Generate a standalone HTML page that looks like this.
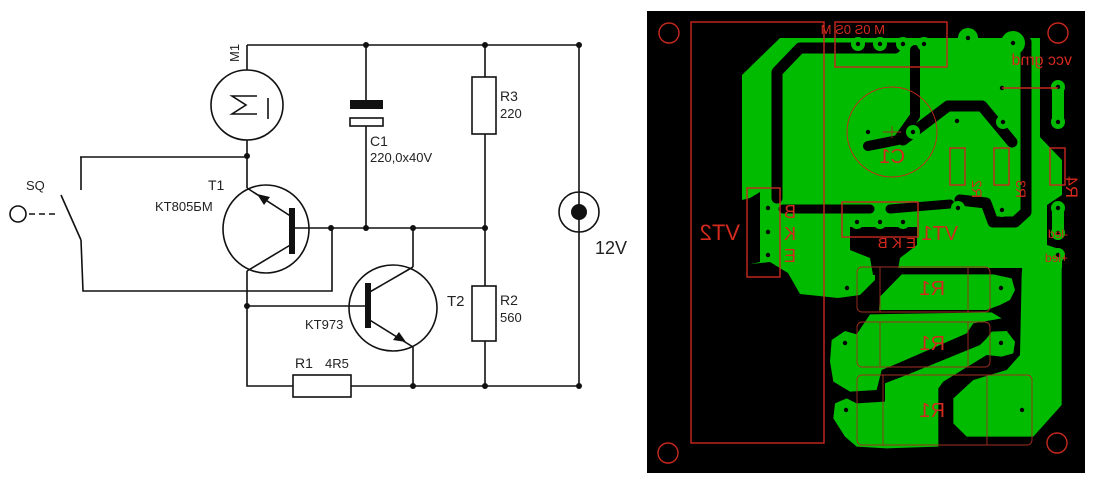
<!DOCTYPE html>
<html><head><meta charset="utf-8"><style>
html,body{margin:0;padding:0;background:#fff;width:1100px;height:487px;overflow:hidden}
svg{display:block}
.s{font-family:"Liberation Sans",sans-serif;fill:#222}
.r{font-family:"Liberation Sans",sans-serif;fill:#d42a1e}
</style></head><body>
<svg width="1100" height="487" viewBox="0 0 1100 487" xmlns="http://www.w3.org/2000/svg">
<!-- SCHEMATIC -->
<g stroke="#111" stroke-width="1.6" fill="none">
<path d="M247,45H579M247,45V70M247,140V188M292,228H485M579,45V386M247,271V386H293M351,386H579"/>
<path d="M485,45V77M485,134V286M485,341V386"/>
<path d="M366,45V101M366,126V228"/>
<path d="M80,157H247M81,157V190M61,195L81,240M81,240L83,291H332V228"/>
<path d="M55,214H26" stroke-dasharray="6,4"/>
<path d="M247,306H365M413,228V267M413,347V386"/>
<ellipse cx="247" cy="105" rx="36" ry="35"/>
<path d="M257,96H232L246,105L232,114H257M268,98V119"/>
<ellipse cx="266" cy="229" rx="43" ry="44"/>
<path d="M292,217L247,188M292,244L247,271"/>
<ellipse cx="393" cy="308" rx="44" ry="43"/>
<path d="M368,293L413,267M368,319L413,347"/>
<rect x="472" y="77" width="24" height="57"/>
<rect x="472" y="286" width="24" height="55"/>
<rect x="293" y="375" width="58" height="22"/>
<rect x="350" y="118" width="33" height="8"/>
<circle cx="18" cy="214" r="8"/>
<circle cx="579" cy="212" r="20"/>
</g>
<rect x="350" y="100" width="33" height="9" fill="#111"/>
<rect x="289" y="208" width="6" height="46" fill="#111"/>
<rect x="365" y="283" width="6" height="45" fill="#111"/>
<circle cx="579" cy="212" r="8" fill="#111"/>
<polygon points="257,194 270,197 264,205" fill="#111"/>
<polygon points="406,342 393,340 399,332" fill="#111"/>
<g fill="#111">
<circle cx="366" cy="45" r="3"/><circle cx="485" cy="45" r="3"/><circle cx="579" cy="45" r="3"/>
<circle cx="247" cy="156" r="3"/><circle cx="331" cy="228" r="3"/><circle cx="366" cy="228" r="3"/>
<circle cx="413" cy="228" r="3"/><circle cx="485" cy="228" r="3"/><circle cx="247" cy="306" r="3"/>
<circle cx="413" cy="386" r="3"/><circle cx="485" cy="386" r="3"/><circle cx="579" cy="386" r="3"/>
</g>
<g class="s" font-size="13">
<text x="239" y="62" transform="rotate(-90 239 62)">M1</text>
<text x="370" y="146" font-size="14">C1</text>
<text x="370" y="162">220,0x40V</text>
<text x="500" y="101" font-size="14">R3</text>
<text x="500" y="118">220</text>
<text x="500" y="305" font-size="14">R2</text>
<text x="500" y="322">560</text>
<text x="208" y="190" font-size="14">T1</text>
<text x="155" y="211">KT805БМ</text>
<text x="447" y="306" font-size="15">T2</text>
<text x="305" y="329">KT973</text>
<text x="295" y="368" font-size="14">R1</text>
<text x="325" y="368">4R5</text>
<text x="26" y="190">SQ</text>
<text x="595" y="254" font-size="18">12V</text>
</g>

<!-- PCB -->
<rect x="647" y="11" width="438" height="462" fill="#000"/>
<g fill="#00bb00">
<polygon points="780,38 1040,38 1040,137 1062,160 1062,268 900,268 875,268 875,280 860,295 838,298 800,294 788,273 770,262 742,265 742,75"/>
</g>
<g stroke="#000" fill="none" stroke-linejoin="round" stroke-linecap="round">
<polyline points="895,48 800,48 777,72 777,198" stroke-width="11"/>
<polyline points="915,50 915,116 898,140 868,146" stroke-width="10"/>
<polyline points="903,140 948,106 982,106 1012,142" stroke-width="11"/>
<polyline points="1026,42 1026,212 1015,222 993,222 986,203 960,200" stroke-width="11"/>
<polyline points="783,209 870,209" stroke-width="9"/>
<polyline points="890,209 950,204" stroke-width="9"/>
</g>
<g fill="#000">
<polygon points="1040,11 1085,11 1085,472 1062,472 1062,250 1047,245 1047,205 1062,195 1062,160 1040,137"/>
<polygon points="850,227 917,227 917,245 900,258 897,275 873,275 870,258 850,250"/>
<polygon points="750,198 760,192 760,262 742,266 742,200"/>
</g>
<!-- lower green -->
<g fill="#00bb00" transform="translate(820,255) scale(0.33333)">
<polygon points="177,165 180,125 245,58 520,58 575,70 585,105 570,135 540,150 500,165"/>
<polygon points="35,255 75,228 110,238 150,178 515,172 545,190 460,205 440,235 245,320 185,345 170,405 90,410 40,380 30,320"/>
<polygon points="515,230 560,228 585,260 580,295 545,305 500,300 370,380 355,400 355,575 200,580 110,575 75,545 40,490 45,445 80,430 110,445 195,440 195,385 260,360 480,270 500,250"/>
<polygon points="610,0 725,0 725,450 640,545 440,545 400,505 400,430 460,375 560,345 600,300 605,60"/>
</g>
<!-- pads -->
<g fill="#00bb00">
<circle cx="858" cy="44" r="7"/><circle cx="880" cy="44" r="7"/><circle cx="903" cy="44" r="7"/><circle cx="924" cy="44" r="7"/>
<circle cx="968" cy="38" r="10"/><circle cx="1013" cy="43" r="12"/>
<circle cx="1058" cy="87" r="7"/><circle cx="1058" cy="122" r="7"/><rect x="1052" y="87" width="12" height="35"/>
<circle cx="868" cy="132" r="7"/><circle cx="913" cy="132" r="7"/>
<circle cx="957" cy="121" r="7"/><circle cx="1003" cy="122" r="7"/>
<circle cx="768" cy="208" r="7"/><circle cx="768" cy="232" r="7"/><circle cx="768" cy="255" r="7"/>
<circle cx="857" cy="222" r="7"/><circle cx="880" cy="222" r="7"/><circle cx="903" cy="222" r="7"/>
<circle cx="958" cy="208" r="7"/><circle cx="1002" cy="210" r="7"/>
<circle cx="1058" cy="208" r="7"/><circle cx="1058" cy="233" r="7"/><circle cx="1058" cy="255" r="7"/><rect x="1052" y="208" width="12" height="25"/>
<circle cx="847" cy="288" r="8"/><circle cx="1001" cy="288" r="10"/>
<circle cx="845" cy="343" r="9"/><circle cx="1001" cy="343" r="10"/>
<circle cx="846" cy="410" r="9"/><circle cx="1022" cy="410" r="7"/>
</g>
<g fill="#000">
<circle cx="858" cy="44" r="2.2"/><circle cx="880" cy="44" r="2.2"/><circle cx="903" cy="44" r="2.2"/><circle cx="924" cy="44" r="2.2"/>
<circle cx="968" cy="38" r="2.2"/><circle cx="1013" cy="43" r="2.2"/>
<circle cx="1058" cy="87" r="2.2"/><circle cx="1058" cy="122" r="2.2"/><circle cx="1002" cy="88" r="2.2"/>
<circle cx="868" cy="132" r="2.2"/><circle cx="913" cy="132" r="2.2"/>
<circle cx="957" cy="121" r="2.2"/><circle cx="1003" cy="122" r="2.2"/>
<circle cx="768" cy="208" r="2.2"/><circle cx="768" cy="232" r="2.2"/><circle cx="768" cy="255" r="2.2"/>
<circle cx="857" cy="222" r="2.2"/><circle cx="880" cy="222" r="2.2"/><circle cx="903" cy="222" r="2.2"/>
<circle cx="958" cy="208" r="2.2"/><circle cx="1002" cy="210" r="2.2"/>
<circle cx="1058" cy="208" r="2.2"/><circle cx="1058" cy="233" r="2.2"/><circle cx="1058" cy="255" r="2.2"/>
<circle cx="847" cy="288" r="2.2"/><circle cx="1001" cy="288" r="2.2"/>
<circle cx="845" cy="343" r="2.2"/><circle cx="1001" cy="343" r="2.2"/>
<circle cx="846" cy="410" r="2.2"/><circle cx="1022" cy="410" r="2.2"/>
</g>
<!-- red outlines -->
<g stroke="#c8281e" stroke-width="1.4" fill="none">
<rect x="691" y="22" width="133" height="421"/>
<circle cx="669" cy="33" r="10"/><circle cx="1058" cy="33" r="10"/>
<circle cx="668" cy="453" r="10"/><circle cx="1057" cy="443" r="10"/>
<rect x="835" y="22" width="112" height="45"/>
<rect x="747" y="188" width="33" height="89"/>
<rect x="842" y="202" width="76" height="35"/>
<circle cx="892" cy="132" r="45" stroke-width="0.9"/>
<rect x="950" y="148" width="15" height="37"/><rect x="994" y="148" width="15" height="37"/><rect x="1050" y="148" width="15" height="37"/>
<path d="M1002,88H1058" />
<g stroke-width="0.9" stroke="#a03020">
<rect x="857" y="267" width="133" height="45" rx="5"/><path d="M880,267V312M968,267V312"/>
<rect x="857" y="322" width="133" height="45" rx="5"/><path d="M880,322V367M968,322V367"/>
<rect x="857" y="375" width="175" height="70" rx="5"/><path d="M883,375V445M987,375V445"/>
<path d="M883,132H901M892,126V138"/>
</g>
</g>
<g class="r">
<text transform="translate(885,34) scale(-1,1)" font-size="13">M 0S 0S M</text>
<text transform="translate(1072,65) scale(-1,1)" font-size="16">vcc grnd</text>
<text transform="translate(905,163) scale(-1,1)" font-size="20">C1</text>
<text transform="translate(740,240) scale(-1,1)" font-size="22">VT2</text>
<text transform="translate(958,240) scale(-1,1)" font-size="20">VT1</text>
<text transform="translate(916,248) scale(-1,1)" font-size="15">E K B</text>
<text transform="translate(796,218) scale(-1,1)" font-size="18">B</text>
<text transform="translate(796,240) scale(-1,1)" font-size="18">K</text>
<text transform="translate(796,262) scale(-1,1)" font-size="18">E</text>
<text transform="translate(945,295) scale(-1,1)" font-size="20">R1</text>
<text transform="translate(945,350) scale(-1,1)" font-size="20">R1</text>
<text transform="translate(945,417) scale(-1,1)" font-size="20">R1</text>
<text transform="translate(1068,238) scale(-1,1)" font-size="12">-led</text>
<text transform="translate(1068,262) scale(-1,1)" font-size="12">+led</text>
<text transform="translate(1066,198) rotate(90) scale(-1,1)" font-size="17">R4</text>
<text transform="translate(972,198) rotate(90) scale(-1,1)" font-size="14">R2</text>
<text transform="translate(1016,198) rotate(90) scale(-1,1)" font-size="14">R3</text>
</g>
</svg>
</body></html>
